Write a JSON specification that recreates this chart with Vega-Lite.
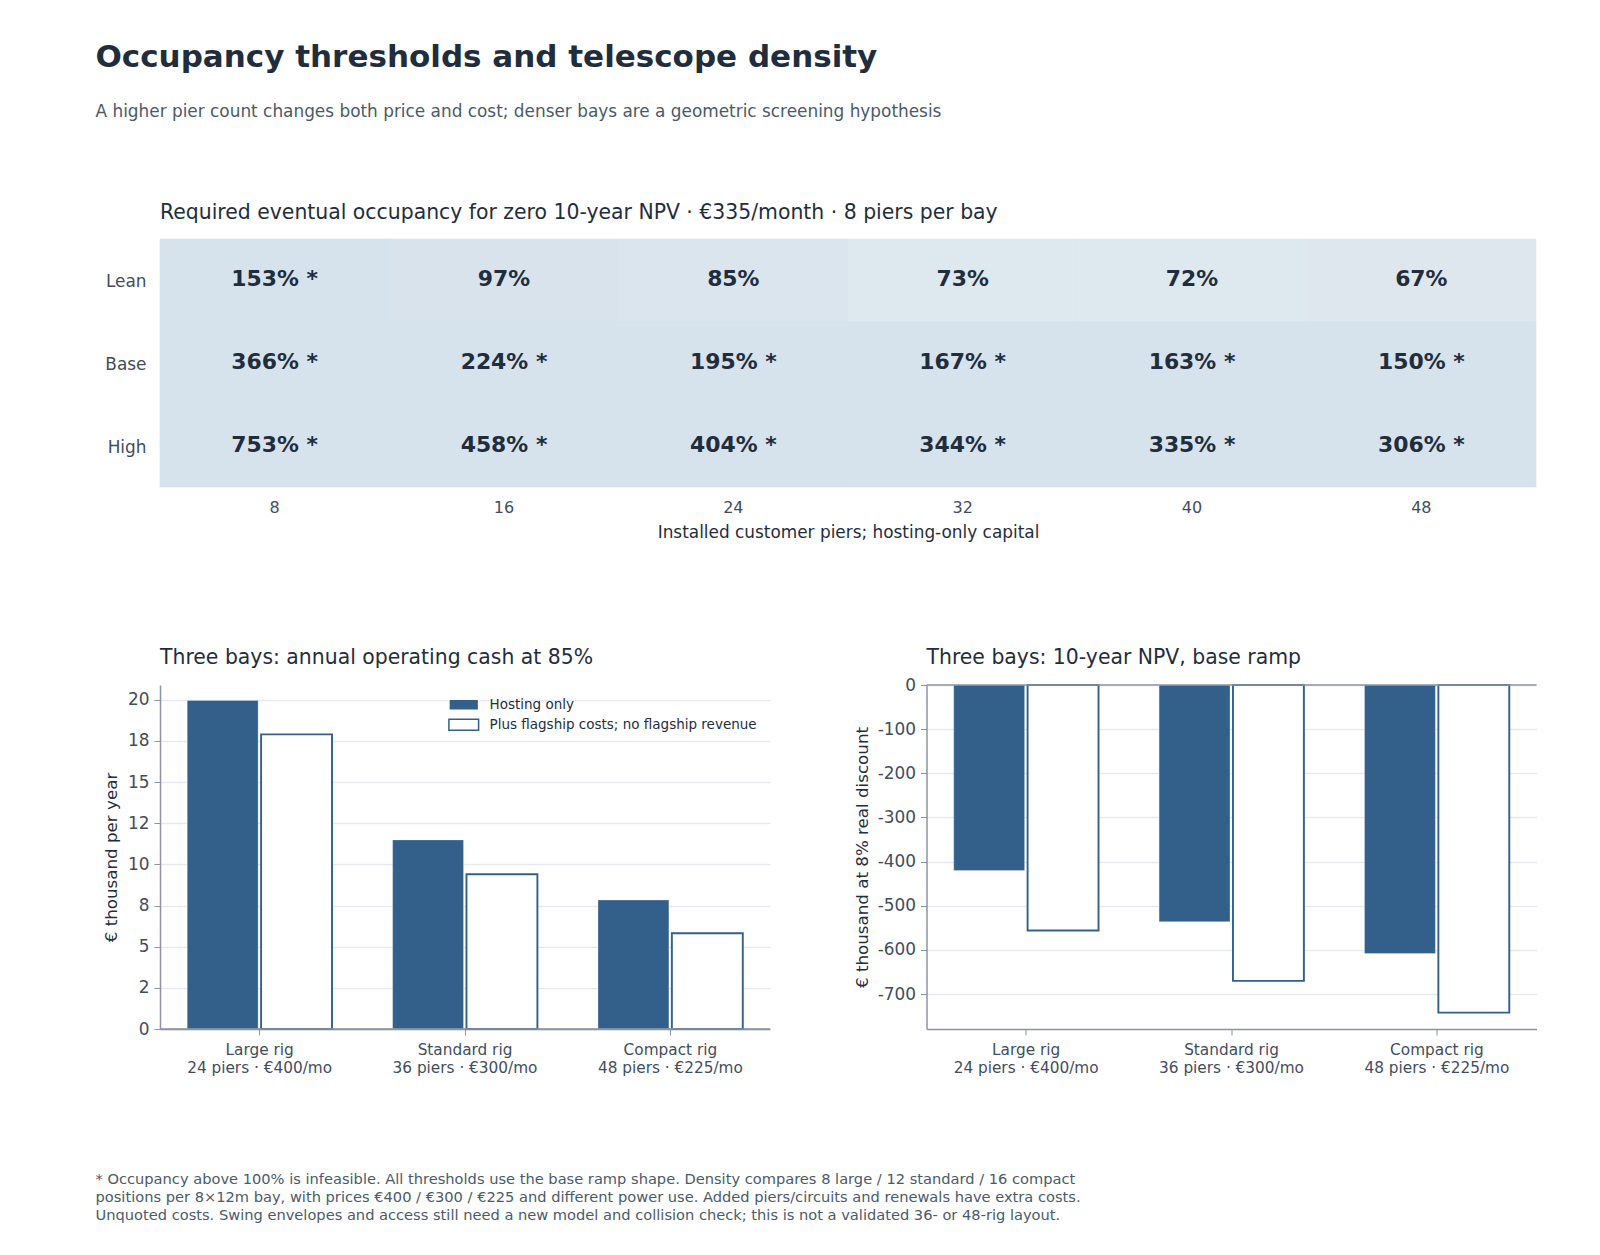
{
  "$schema": "https://vega.github.io/schema/vega-lite/v6.json",
  "background": "white",
  "padding": {"left": 95, "top": 42, "right": 60, "bottom": 20},
  "title": {
    "text": "Occupancy thresholds and telescope density",
    "subtitle": "A higher pier count changes both price and cost; denser bays are a geometric screening hypothesis",
    "anchor": "start",
    "frame": "bounds",
    "fontSize": 31,
    "fontWeight": "bold",
    "color": "#1f2d3d",
    "subtitleFontSize": 16.9,
    "subtitleColor": "#4a5a6a",
    "subtitlePadding": 30,
    "offset": 82
  },
  "datasets": {
    "heat": [
      {"scenario": "Lean", "piers": 8, "occupancy": 153, "label": "153% *"},
      {"scenario": "Lean", "piers": 16, "occupancy": 97, "label": "97%"},
      {"scenario": "Lean", "piers": 24, "occupancy": 85, "label": "85%"},
      {"scenario": "Lean", "piers": 32, "occupancy": 73, "label": "73%"},
      {"scenario": "Lean", "piers": 40, "occupancy": 72, "label": "72%"},
      {"scenario": "Lean", "piers": 48, "occupancy": 67, "label": "67%"},
      {"scenario": "Base", "piers": 8, "occupancy": 366, "label": "366% *"},
      {"scenario": "Base", "piers": 16, "occupancy": 224, "label": "224% *"},
      {"scenario": "Base", "piers": 24, "occupancy": 195, "label": "195% *"},
      {"scenario": "Base", "piers": 32, "occupancy": 167, "label": "167% *"},
      {"scenario": "Base", "piers": 40, "occupancy": 163, "label": "163% *"},
      {"scenario": "Base", "piers": 48, "occupancy": 150, "label": "150% *"},
      {"scenario": "High", "piers": 8, "occupancy": 753, "label": "753% *"},
      {"scenario": "High", "piers": 16, "occupancy": 458, "label": "458% *"},
      {"scenario": "High", "piers": 24, "occupancy": 404, "label": "404% *"},
      {"scenario": "High", "piers": 32, "occupancy": 344, "label": "344% *"},
      {"scenario": "High", "piers": 40, "occupancy": 335, "label": "335% *"},
      {"scenario": "High", "piers": 48, "occupancy": 306, "label": "306% *"}
    ],
    "bays": [
      {"bay": "Large rig|24 piers · €400/mo", "series": "Hosting only", "cash": 19.96, "npv": -420},
      {"bay": "Large rig|24 piers · €400/mo", "series": "Plus flagship costs; no flagship revenue", "cash": 17.9, "npv": -556},
      {"bay": "Standard rig|36 piers · €300/mo", "series": "Hosting only", "cash": 11.49, "npv": -536},
      {"bay": "Standard rig|36 piers · €300/mo", "series": "Plus flagship costs; no flagship revenue", "cash": 9.4, "npv": -670},
      {"bay": "Compact rig|48 piers · €225/mo", "series": "Hosting only", "cash": 7.84, "npv": -608},
      {"bay": "Compact rig|48 piers · €225/mo", "series": "Plus flagship costs; no flagship revenue", "cash": 5.82, "npv": -742}
    ]
  },
  "config": {
    "font": "DejaVu Sans",
    "view": {"stroke": null},
    "axis": {
      "labelFont": "DejaVu Sans",
      "titleFont": "DejaVu Sans",
      "labelFontSize": 16.9,
      "labelColor": "#3f4d5e",
      "titleFontSize": 16.7,
      "titleFontWeight": "normal",
      "titleColor": "#1f2d3d",
      "domainColor": "#8a94a3",
      "domainWidth": 1.5,
      "tickColor": "#8a94a3",
      "tickSize": 6,
      "gridColor": "#e5e9ef",
      "gridWidth": 1.4
    }
  },
  "spacing": 107,
  "resolve": {"legend": {"fill": "independent", "stroke": "independent"}},
  "vconcat": [
    {
      "title": {"text": "Required eventual occupancy for zero 10-year NPV · €335/month · 8 piers per bay", "anchor": "start", "frame": "group", "fontSize": 20.4, "fontWeight": "normal", "color": "#1f2d3d", "offset": 15},
      "width": 1376,
      "height": 248,
      "data": {"name": "heat"},
      "encoding": {
        "x": {
          "field": "piers",
          "type": "ordinal",
          "title": "Installed customer piers; hosting-only capital",
          "scale": {"paddingInner": 0, "paddingOuter": 0},
          "axis": {"labelAngle": 0, "domain": false, "ticks": false, "labelPadding": 12, "titlePadding": 9, "labelFontSize": 16, "titleFontSize": 16.9}
        },
        "y": {
          "field": "scenario",
          "type": "nominal",
          "title": null,
          "sort": ["Lean", "Base", "High"],
          "scale": {"paddingInner": 0, "paddingOuter": 0},
          "axis": {"domain": false, "ticks": false, "labelPadding": 14, "labelOffset": 2, "minExtent": 56}
        }
      },
      "layer": [
        {
          "mark": {"type": "rect", "strokeWidth": 0.6},
          "encoding": {
            "color": {
              "field": "occupancy",
              "type": "quantitative",
              "legend": null,
              "scale": {
                "domain": [67, 72, 73, 85, 97, 150],
                "range": ["#dfe7ee", "#dde8ef", "#dde8ef", "#dae5ed", "#d8e3ec", "#d6e2ec"],
                "clamp": true
              }
            },
            "stroke": {
              "field": "occupancy",
              "type": "quantitative",
              "legend": null,
              "scale": {
                "domain": [67, 72, 73, 85, 97, 150],
                "range": ["#dfe7ee", "#dde8ef", "#dde8ef", "#dae5ed", "#d8e3ec", "#d6e2ec"],
                "clamp": true
              }
            }
          }
        },
        {
          "mark": {"type": "text", "fontSize": 21.9, "fontWeight": "bold", "color": "#1f2d3d", "dy": -1},
          "encoding": {"text": {"field": "label", "type": "nominal"}}
        }
      ],
      "resolve": {"scale": {"stroke": "independent"}}
    },
    {
      "spacing": 82.5,
      "resolve": {"legend": {"fill": "independent", "stroke": "independent"}},
      "title": {
        "text": [
          "* Occupancy above 100% is infeasible. All thresholds use the base ramp shape. Density compares 8 large / 12 standard / 16 compact",
          "positions per 8×12m bay, with prices €400 / €300 / €225 and different power use. Added piers/circuits and renewals have extra costs.",
          "Unquoted costs. Swing envelopes and access still need a new model and collision check; this is not a validated 36- or 48-rig layout."
        ],
        "orient": "bottom",
        "anchor": "start",
        "frame": "bounds",
        "dx": -8,
        "fontSize": 14.63,
        "fontWeight": "normal",
        "lineHeight": 17.8,
        "color": "#4a5a6a",
        "offset": 97
      },
      "hconcat": [
        {
          "title": {"text": "Three bays: annual operating cash at 85%", "anchor": "start", "frame": "group", "fontSize": 20.4, "fontWeight": "normal", "color": "#1f2d3d", "offset": 17},
          "width": 610,
          "height": 344,
          "data": {"name": "bays"},
          "layer": [
            {
              "mark": {"type": "bar"},
              "encoding": {
                "x": {
                  "field": "bay",
                  "type": "nominal",
                  "sort": null,
                  "title": null,
                  "scale": {"paddingInner": 0.295, "paddingOuter": 0.1325},
                  "axis": {"labelAngle": 0, "labelExpr": "split(datum.label, '|')", "labelFontSize": 15.3, "labelLineHeight": 18, "labelPadding": 7}
                },
                "xOffset": {"field": "series", "sort": null, "scale": {"paddingInner": 0.04}},
                "y": {
                  "field": "cash",
                  "type": "quantitative",
                  "title": "€ thousand per year",
                  "scale": {"domain": [0, 20.9], "nice": false},
                  "axis": {
                    "values": [0, 2.5, 5, 7.5, 10, 12.5, 15, 17.5, 20],
                    "labelExpr": "datum.value == 2.5 ? '2' : datum.value == 7.5 ? '8' : datum.value == 12.5 ? '12' : datum.value == 17.5 ? '18' : datum.label",
                    "labelPadding": 5,
                    "titlePadding": 7
                  }
                },
                "fill": {
                  "field": "series",
                  "type": "nominal",
                  "sort": null,
                  "title": null,
                  "scale": {"range": ["#33608a", "#ffffff"]},
                  "legend": {
                    "orient": "top-right",
                    "offset": 13,
                    "labelFontSize": 13.5,
                    "labelColor": "#1f2d3d",
                    "labelOffset": 19,
                    "symbolType": "M-2.7,-1H2.7V1H-2.7Z",
                    "symbolSize": 121,
                    "symbolOpacity": 1,
                    "rowPadding": 2,
                    "labelLimit": 400
                  }
                },
                "stroke": {
                  "field": "series",
                  "type": "nominal",
                  "sort": null,
                  "title": null,
                  "scale": {"range": ["#ffffff", "#33608a"]},
                  "legend": {
                    "orient": "top-right",
                    "offset": 13,
                    "labelFontSize": 13.5,
                    "labelColor": "#1f2d3d",
                    "labelOffset": 19,
                    "symbolType": "M-2.7,-1H2.7V1H-2.7Z",
                    "symbolSize": 121,
                    "rowPadding": 2,
                    "labelLimit": 400
                  }
                },
                "strokeWidth": {
                  "field": "series",
                  "type": "ordinal",
                  "sort": null,
                  "scale": {"range": [0.3, 1.9]},
                  "legend": null
                }
              }
            },
            {
              "data": {"values": [{"zero": 0}]},
              "mark": {"type": "rule", "color": "#8a94a3", "strokeWidth": 1.5},
              "encoding": {"y": {"field": "zero", "type": "quantitative"}}
            }
          ]
        },
        {
          "title": {"text": "Three bays: 10-year NPV, base ramp", "anchor": "start", "frame": "group", "fontSize": 20.4, "fontWeight": "normal", "color": "#1f2d3d", "offset": 8},
          "width": 610,
          "height": 344,
          "data": {"name": "bays"},
          "layer": [
            {
              "mark": {"type": "bar"},
              "encoding": {
                "x": {
                  "field": "bay",
                  "type": "nominal",
                  "sort": null,
                  "title": null,
                  "scale": {"paddingInner": 0.295, "paddingOuter": 0.1325},
                  "axis": {"labelAngle": 0, "labelExpr": "split(datum.label, '|')", "labelFontSize": 15.3, "labelLineHeight": 18, "labelPadding": 7}
                },
                "xOffset": {"field": "series", "sort": null, "scale": {"paddingInner": 0.04}},
                "y": {
                  "field": "npv",
                  "type": "quantitative",
                  "title": "€ thousand at 8% real discount",
                  "scale": {"domain": [-779, 0], "nice": false},
                  "axis": {
                    "values": [0, -100, -200, -300, -400, -500, -600, -700],
                    "labelExpr": "'' + datum.value",
                    "labelPadding": 5,
                    "titlePadding": 6
                  }
                },
                "fill": {
                  "field": "series",
                  "type": "nominal",
                  "sort": null,
                  "scale": {"range": ["#33608a", "#ffffff"]},
                  "legend": null
                },
                "stroke": {
                  "field": "series",
                  "type": "nominal",
                  "sort": null,
                  "scale": {"range": ["#ffffff", "#33608a"]},
                  "legend": null
                },
                "strokeWidth": {
                  "field": "series",
                  "type": "ordinal",
                  "sort": null,
                  "scale": {"range": [0.3, 1.9]},
                  "legend": null
                }
              }
            },
            {
              "data": {"values": [{"zero": 0}]},
              "mark": {"type": "rule", "color": "#8a94a3", "strokeWidth": 1.5},
              "encoding": {"y": {"field": "zero", "type": "quantitative"}}
            }
          ]
        }
      ]
    }
  ]
}
